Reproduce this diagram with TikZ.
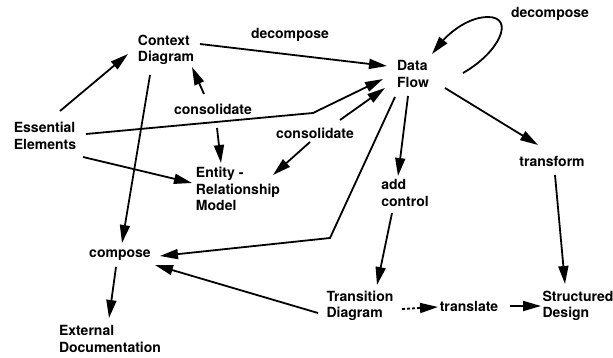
\documentclass[tikz,border=0pt]{standalone}
\usepackage{fontspec}
\setmainfont{TeX Gyre Heros}
\usetikzlibrary{arrows.meta,calc}
\begin{document}
\begin{tikzpicture}[x=1pt,y=-1pt,
  lbl/.style={font=\fontsize{14}{16.5}\selectfont\bfseries, align=left, inner sep=0pt},
  conn/.style={line width=1.8pt, -{Triangle[length=18pt,width=10pt]}}]
\fill[white] (0,0) rectangle (613,358);
\useasboundingbox (0,0) rectangle (613,358);
% nodes
\node[lbl] (ctx)  at (166,50)  {Context\\Diagram};
\node[lbl] (df)   at (413,74)  {Data\\Flow};
\node[lbl] (ess)  at (45,136)  {Essential\\Elements};
\node[lbl] (erm)  at (238,189) {Entity -\\Relationship\\Model};
\node[lbl] (comp) at (120,255) {compose};
\node[lbl] (ext)  at (110,339) {External\\Documentation};
\node[lbl] (addc) at (405,193) {add\\control};
\node[lbl] (trf)  at (552,161) {transform};
\node[lbl] (trd)  at (360,306) {Transition\\Diagram};
\node[lbl] (trl)  at (469,306) {translate};
\node[lbl] (sd)   at (578,306) {Structured\\Design};
\node[lbl] (dec1) at (290,35)  {decompose};
\node[lbl] (dec2) at (550,14)  {decompose};
\node[lbl] (con1) at (213,109) {consolidate};
\node[lbl] (con2) at (315,133) {consolidate};
\coordinate (b1) at (313,113);
\coordinate (b2) at (330,238);
% connectors
\draw[conn] ($(ess)+(15,-25)$) -- ($(ctx)+(-38,4)$);
\draw[conn] ($(ctx)+(34,-6)$) -- ($(df)+(-26,-8)$);
\draw[conn] ($(con1)+(-9,-15)$) -- ($(ctx)+(26,17)$);
\draw[conn] ($(con1)+(4,19)$) -- ($(erm)+(-17,-26)$);
\draw[conn] ($(ess)+(41,-2)$) -- (b1) -- ($(df)+(-30,5)$);
\draw[conn] ($(con2)+(25,-13)$) -- ($(df)+(-28,14)$);
\draw[conn] ($(con2)+(-5,9)$) -- ($(erm)+(35,-14)$);
\draw[conn] ($(ess)+(38,21)$) -- ($(erm)+(-46,-6)$);
\draw[conn] ($(ctx)+(-16,25)$) -- ($(comp)+(2,-12)$);
\draw[conn] ($(df)+(-18,23)$) -- (b2) -- ($(comp)+(40,1)$);
\draw[conn] ($(df)+(-5,22)$) -- ($(addc)+(-7,-17)$);
\draw[conn] ($(df)+(50,-1)$) .. controls (500,52) and (515,17) .. (488,17)
            .. controls (465,17) and (445,38) .. ($(df)+(19,-20)$);
\draw[conn] ($(df)+(32,14)$) -- ($(trf)+(-14,-16)$);
\draw[conn] ($(trf)+(3,14)$) -- ($(sd)+(-13,-22)$);
\draw[conn] ($(addc)+(-13,20)$) -- ($(trd)+(17,-21)$);
\draw[conn] ($(trd)+(-42,7)$) -- ($(comp)+(35,10)$);
\draw[conn, dash pattern=on 3pt off 2pt] ($(trd)+(42,3)$) -- ($(trl)+(-31,1)$);
\draw[conn] ($(trl)+(41,0)$) -- ($(sd)+(-37,0)$);
\draw[conn] ($(comp)+(-4,12)$) -- ($(ext)+(-1,-21)$);
\end{tikzpicture}
\end{document}
